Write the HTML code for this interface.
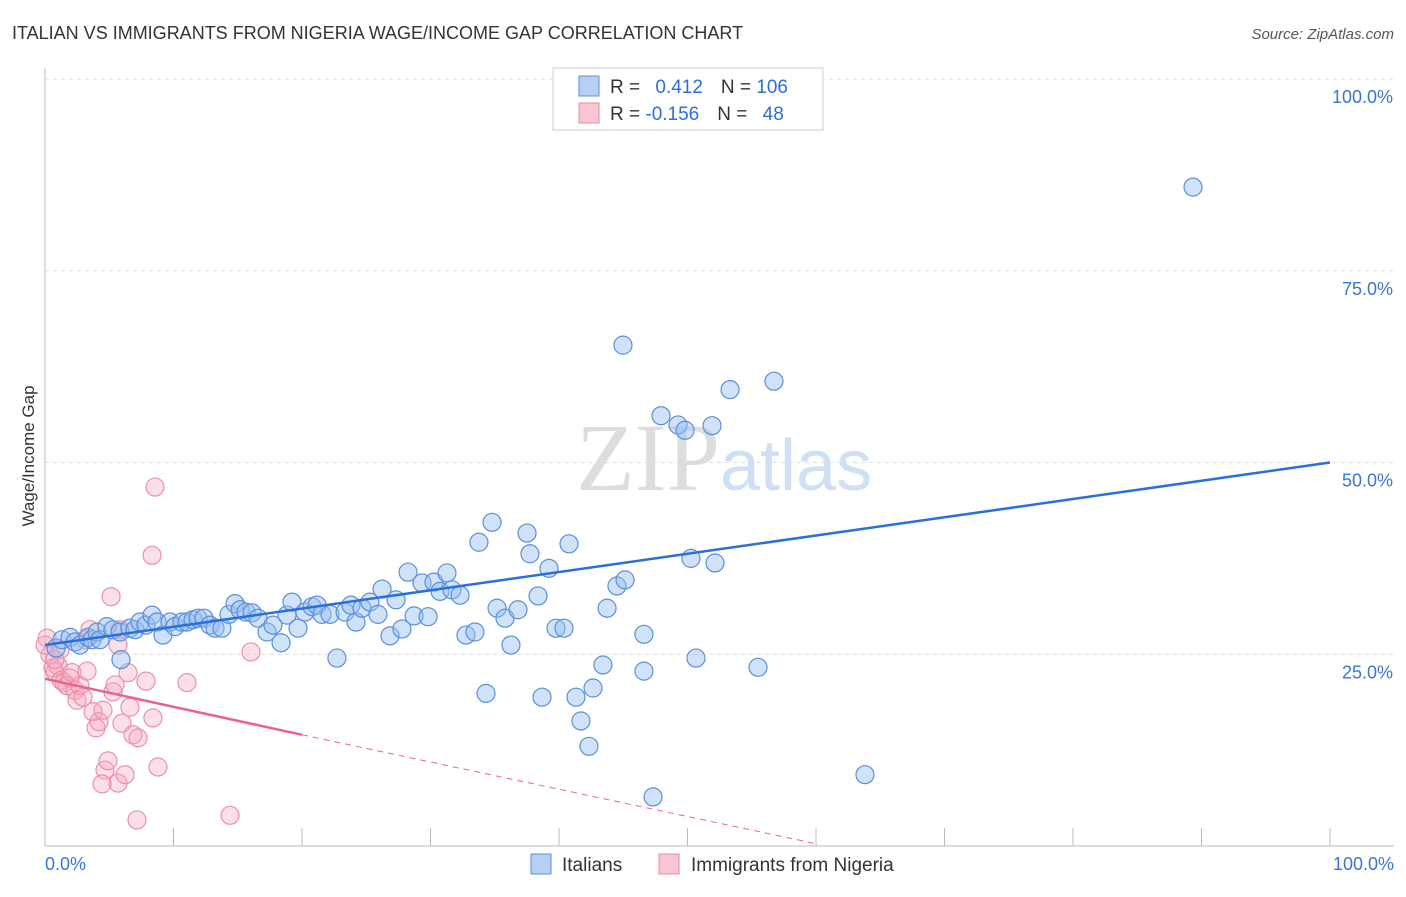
<!DOCTYPE html>
<html><head><meta charset="utf-8"><style>
body{margin:0;background:#fff;font-family:"Liberation Sans",sans-serif}
</style></head><body>
<svg id="chart" width="1406" height="892" xmlns="http://www.w3.org/2000/svg" font-family="Liberation Sans, sans-serif">
<text x="12" y="39" font-size="18" fill="#333">ITALIAN VS IMMIGRANTS FROM NIGERIA WAGE/INCOME GAP CORRELATION CHART</text>
<text x="1394" y="39" font-size="15" fill="#555" font-style="italic" text-anchor="end">Source: ZipAtlas.com</text>
<text x="720" y="490" font-size="96" fill="#ddd" text-anchor="end" font-family="Liberation Serif, serif">ZIP</text>
<text x="720" y="490" font-size="72" fill="#cfe0f5">atlas</text>
<g id="grid"></g>
<g id="axes"></g>
<g id="pts"></g>
<g id="lines"></g>
<text transform="translate(34,456) rotate(-90)" font-size="17" fill="#333" text-anchor="middle">Wage/Income Gap</text>
<g>
<rect x="553" y="68" width="270" height="62" fill="#fff" stroke="#ccc"/>
<rect x="579" y="76" width="20" height="20" fill="#b6d0f3" stroke="#5b8fd9"/>
<rect x="579" y="103" width="20" height="20" fill="#f9c6d3" stroke="#e88aa5"/>
<text x="610" y="93" font-size="19" fill="#333">R = <tspan fill="#2a6fdb" dx="10">0.412</tspan><tspan dx="18" fill="#333">N = </tspan><tspan fill="#2a6fdb">106</tspan></text>
<text x="610" y="120" font-size="19" fill="#333">R = <tspan fill="#2a6fdb">-0.156</tspan><tspan dx="18" fill="#333">N = </tspan><tspan fill="#2a6fdb" dx="10">48</tspan></text>
</g>
<g>
<rect x="531" y="854" width="20" height="20" fill="#b6d0f3" stroke="#5b8fd9"/>
<text x="562" y="871" font-size="19" fill="#333">Italians</text>
<rect x="659" y="854" width="20" height="20" fill="#f9c6d3" stroke="#e88aa5"/>
<text x="691" y="871" font-size="19" fill="#333">Immigrants from Nigeria</text>
</g>
</svg>
<script>
const blueX=[0.86,1.32,1.95,2.33,2.72,3.35,3.66,4.05,4.28,4.82,5.29,5.84,5.91,6.61,7.0,7.39,7.86,8.33,8.72,9.18,9.73,10.12,10.66,11.05,11.52,11.91,12.37,12.84,13.23,13.77,14.32,14.79,15.18,15.64,16.11,16.58,17.28,17.74,18.37,18.83,19.22,19.69,20.23,20.78,21.17,21.56,22.18,22.72,23.35,23.81,24.2,24.67,25.29,25.91,26.23,26.85,27.32,27.78,28.25,28.72,29.34,29.81,30.27,30.74,31.28,31.67,32.3,32.76,33.46,33.77,34.32,34.79,35.18,35.8,36.26,36.81,37.51,37.74,38.37,38.68,39.22,39.77,40.39,40.78,41.32,41.71,42.33,42.65,43.42,43.74,44.51,45.14,44.98,46.61,46.61,47.32,47.94,49.26,49.81,50.27,50.66,51.91,52.14,53.31,55.49,56.73,63.81,89.34];
const blueY=[25.8,26.9,27.2,26.6,26.2,27.2,26.9,27.9,26.9,28.6,28.2,27.9,24.3,28.4,28.2,29.2,28.8,30.1,29.2,27.5,29.2,28.6,29.2,29.2,29.5,29.7,29.7,28.8,28.4,28.4,30.2,31.6,30.8,30.5,30.4,29.7,27.9,28.8,26.5,30.1,31.8,28.4,30.5,31.2,31.4,30.2,30.2,24.5,30.5,31.4,29.2,31.0,31.8,30.2,33.5,27.4,32.1,28.3,35.7,30.0,34.3,29.9,34.4,33.2,35.6,33.4,32.7,27.5,27.9,39.6,19.9,42.2,31.0,29.7,26.2,30.8,40.8,38.1,32.6,19.4,36.2,28.4,28.4,39.4,19.4,16.3,13.0,20.6,23.6,31.0,33.9,34.7,65.3,27.6,22.8,6.4,56.1,54.9,54.2,37.5,24.5,54.8,36.9,59.5,23.3,60.6,9.3,85.9];
const pinkX=[0.16,0.39,0.62,0.78,1.01,1.25,1.48,1.71,1.95,2.1,2.33,2.49,2.72,2.96,3.27,3.5,3.74,3.97,4.2,4.51,4.67,4.9,5.14,5.29,5.45,5.68,5.84,5.99,6.23,6.46,6.61,6.85,7.24,7.86,8.33,8.4,8.56,8.79,11.05,14.4,16.03,7.16,4.44,5.68,3.11,1.17,0.78,0];
const pinkY=[27.1,24.9,23.2,22.7,23.5,21.6,21.3,20.9,21.9,22.6,20.3,19.0,20.9,19.4,22.8,28.2,17.5,15.4,16.2,17.7,9.9,11.1,32.5,20.1,21.0,8.2,28.2,16.0,9.3,22.6,18.1,14.5,14.1,21.5,37.9,16.7,46.8,10.3,21.3,4.0,25.3,3.4,8.1,26.2,26.9,25.6,24.3,26.2];
const yTicks=[25,50,75,100];
const yTickLabels=["25.0%","50.0%","75.0%","100.0%"];
const blueTrend=[26.2,50.0];
const pinkTrend=[21.8,14.5,0.3];
const pinkTrendX=[0,20,60];
const NS="http://www.w3.org/2000/svg";
const X=v=>45+v*12.85, Y=v=>846-v*7.67;
function mk(t,a,p){const e=document.createElementNS(NS,t);for(const k in a)e.setAttribute(k,a[k]);p.appendChild(e);return e;}
const grid=document.getElementById('grid'),axes=document.getElementById('axes'),pts=document.getElementById('pts'),lines=document.getElementById('lines');
yTicks.forEach((t,i)=>{
 const l=mk('line',{x1:45,x2:1394,y1:Y(t),y2:Y(t),stroke:'#ddd','stroke-dasharray':'4,4'},grid);
 
 
 const tx=mk('text',{x:1393,y:Y(t)+24,'font-size':18,fill:'#3a74d6','text-anchor':'end'},axes);
 tx.textContent=yTickLabels[i];
 
 
});
const ax=mk('line',{x1:45,x2:45,y1:68,y2:846,stroke:'#bbb'},axes);


const bx=mk('line',{x1:45,x2:1394,y1:846,y2:846,stroke:'#bbb'},axes);


for(let i=1;i<=10;i++){const t=mk('line',{x1:X(i*10),x2:X(i*10),y1:828,y2:846,stroke:'#bbb'},axes);
 
 }
const xl=mk('text',{x:45,y:870,'font-size':18,fill:'#3a74d6'},axes);xl.textContent='0.0%';


const xr=mk('text',{x:1394,y:870,'font-size':18,fill:'#3a74d6','text-anchor':'end'},axes);xr.textContent='100.0%';


pinkX.forEach((v,i)=>{const c=mk('circle',{cx:X(v),cy:Y(pinkY[i]),r:9,fill:'rgba(245,165,188,0.35)',stroke:'#eb8fab','stroke-width':1.2},pts);
 
 });
blueX.forEach((v,i)=>{const c=mk('circle',{cx:X(v),cy:Y(blueY[i]),r:9,fill:'rgba(150,190,240,0.45)',stroke:'#5b8fd9','stroke-width':1.2},pts);
 
 });
const bl=mk('line',{x1:X(0),y1:Y(blueTrend[0]),x2:X(100),y2:Y(blueTrend[1]),stroke:'#2a6fdb','stroke-width':2.5},lines);


const pl=mk('line',{x1:X(pinkTrendX[0]),y1:Y(pinkTrend[0]),x2:X(pinkTrendX[1]),y2:Y(pinkTrend[1]),stroke:'#e8648f','stroke-width':2.5},lines);


const pd=mk('line',{x1:X(pinkTrendX[1]),y1:Y(pinkTrend[1]),x2:X(pinkTrendX[2]),y2:Y(pinkTrend[2]),stroke:'#e8648f','stroke-width':1,'stroke-dasharray':'6,5'},lines);


</script>
</body></html>
